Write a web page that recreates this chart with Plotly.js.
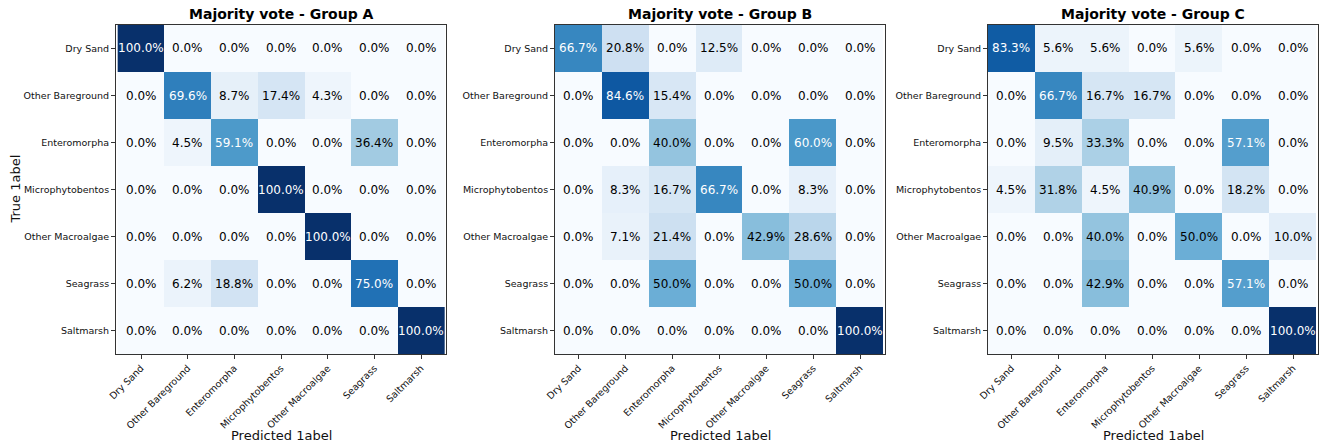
<!DOCTYPE html>
<html>
<head>
<meta charset="utf-8">
<script src="https://cdn.plot.ly/plotly-3.0.1.min.js"></script>
<style>html,body{margin:0;padding:0;background:#fff}#chart{width:1324px;height:444px}</style>
</head>
<body>
<div id="chart"></div>
<script>
const classLabels = ["Dry Sand","Other Bareground","Enteromorpha","Microphytobentos","Other Macroalgae","Seagrass","Saltmarsh"];
const groupTitles = ["Majority vote - Group A","Majority vote - Group B","Majority vote - Group C"];
const xAxisTitle = "Predicted 1abel";
const yAxisTitle = "True 1abel";

const groupA = [
  [100.0, 0.0, 0.0, 0.0, 0.0, 0.0, 0.0],
  [0.0, 69.6, 8.7, 17.4, 4.3, 0.0, 0.0],
  [0.0, 4.5, 59.1, 0.0, 0.0, 36.4, 0.0],
  [0.0, 0.0, 0.0, 100.0, 0.0, 0.0, 0.0],
  [0.0, 0.0, 0.0, 0.0, 100.0, 0.0, 0.0],
  [0.0, 6.2, 18.8, 0.0, 0.0, 75.0, 0.0],
  [0.0, 0.0, 0.0, 0.0, 0.0, 0.0, 100.0]
];
const groupB = [
  [66.7, 20.8, 0.0, 12.5, 0.0, 0.0, 0.0],
  [0.0, 84.6, 15.4, 0.0, 0.0, 0.0, 0.0],
  [0.0, 0.0, 40.0, 0.0, 0.0, 60.0, 0.0],
  [0.0, 8.3, 16.7, 66.7, 0.0, 8.3, 0.0],
  [0.0, 7.1, 21.4, 0.0, 42.9, 28.6, 0.0],
  [0.0, 0.0, 50.0, 0.0, 0.0, 50.0, 0.0],
  [0.0, 0.0, 0.0, 0.0, 0.0, 0.0, 100.0]
];
const groupC = [
  [83.3, 5.6, 5.6, 0.0, 5.6, 0.0, 0.0],
  [0.0, 66.7, 16.7, 16.7, 0.0, 0.0, 0.0],
  [0.0, 9.5, 33.3, 0.0, 0.0, 57.1, 0.0],
  [4.5, 31.8, 4.5, 40.9, 0.0, 18.2, 0.0],
  [0.0, 0.0, 40.0, 0.0, 50.0, 0.0, 10.0],
  [0.0, 0.0, 42.9, 0.0, 0.0, 57.1, 0.0],
  [0.0, 0.0, 0.0, 0.0, 0.0, 0.0, 100.0]
];

const groups = [groupA, groupB, groupC];
const W = 1324, H = 444;
const blues = [
  [0.0,"#f7fbff"],[0.125,"#deebf7"],[0.25,"#c6dbef"],[0.375,"#9ecae1"],
  [0.5,"#6baed6"],[0.625,"#4292c6"],[0.75,"#2171b5"],[0.875,"#08519c"],[1.0,"#08306b"]
];
const font = "DejaVu Sans, Verdana, sans-serif";
const xDomains = [[116/W, 446/W],[555/W, 885/W],[988/W, 1318/W]];
const yDomain = [1-354/H, 1-25/H];

const data = [];
const annotations = [];
const layout = {
  width: W, height: H,
  margin: {l:0, r:0, t:0, b:0},
  paper_bgcolor: "#fff", plot_bgcolor: "#fff",
  showlegend: false,
  font: {family: font, color: "#000"},
  annotations: annotations
};

groups.forEach((g, i) => {
  const sfx = i === 0 ? "" : String(i+1);
  const xa = "x" + sfx, ya = "y" + sfx;
  data.push({
    type: "heatmap",
    x: classLabels, y: classLabels, z: g,
    xaxis: xa, yaxis: ya,
    colorscale: blues, zmin: 0, zmax: 100,
    showscale: false, hoverinfo: "skip"
  });
  const axCommon = {
    type: "category",
    showgrid: false, zeroline: false,
    showline: true, linecolor: "#333", linewidth: 1, mirror: true,
    ticks: "outside", ticklen: 4, tickcolor: "#333",
    tickfont: {family: font, size: 9.5, color: "#111"}
  };
  layout["xaxis" + sfx] = Object.assign({}, axCommon, {
    domain: xDomains[i], anchor: ya, tickangle: -45
  });
  layout["yaxis" + sfx] = Object.assign({}, axCommon, {
    domain: yDomain, anchor: xa, autorange: "reversed"
  });
  g.forEach((row, r) => {
    row.forEach((v, c) => {
      annotations.push({
        x: classLabels[c], y: classLabels[r], xref: xa, yref: ya,
        text: v.toFixed(1) + "%", showarrow: false,
        font: {family: font, size: 12, color: v > 50 ? "#ffffff" : "#000000"}
      });
    });
  });
  const cx = (xDomains[i][0] + xDomains[i][1]) / 2;
  annotations.push({
    x: cx, y: 1 - 14/H, xref: "paper", yref: "paper",
    text: "<b>" + groupTitles[i] + "</b>", showarrow: false,
    xanchor: "center", yanchor: "middle",
    font: {family: font, size: 14, color: "#000"}
  });
  annotations.push({
    x: cx, y: 1 - 435/H, xref: "paper", yref: "paper",
    text: xAxisTitle, showarrow: false,
    xanchor: "center", yanchor: "middle",
    font: {family: font, size: 13, color: "#111"}
  });
});

annotations.push({
  x: 15/W, y: 1 - 189.5/H, xref: "paper", yref: "paper",
  text: yAxisTitle, showarrow: false, textangle: -90,
  xanchor: "center", yanchor: "middle",
  font: {family: font, size: 13, color: "#111"}
});

Plotly.newPlot("chart", data, layout, {staticPlot: true, displayModeBar: false});
</script>
</body>
</html>
